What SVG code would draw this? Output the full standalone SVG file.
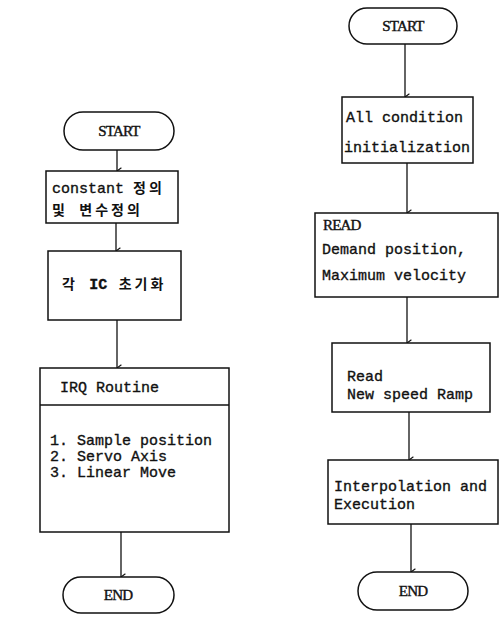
<svg xmlns="http://www.w3.org/2000/svg" width="500" height="620" viewBox="0 0 500 620">
  <style>
    .box { fill: #fff; stroke: #111; stroke-width: 1.5; }
    .term { fill: #fff; stroke: #111; stroke-width: 1.5; }
    .mono { font-family: "Liberation Mono", "Noto Sans CJK KR", monospace; font-size: 15px; fill: #111; stroke: #111; stroke-width: 0.35; }
    .kr { font-family: "Liberation Mono", "Noto Sans CJK KR", monospace; font-size: 14px; font-weight: bold; fill: #111; letter-spacing: 3px; }
    .serif { font-family: "Liberation Serif", serif; font-size: 15px; fill: #111; stroke: #111; stroke-width: 0.4; letter-spacing: -0.8px; }
    .edge { fill: none; stroke: #111; stroke-width: 1.3; marker-end: url(#arrow); }
  </style>
  <defs>
    <marker id="arrow" viewBox="0 0 10 10" refX="5" refY="9.5" markerWidth="8" markerHeight="8" markerUnits="userSpaceOnUse" orient="auto-start-reverse">
      <path d="M1,4 L5,9.5 L9,4" fill="none" stroke="#111" stroke-width="1.4"/>
    </marker>
  </defs>
  <rect width="500" height="620" fill="#fff"/>

  <!-- connectors -->
  <g id="connectors">
    <line class="edge" x1="117" y1="150" x2="117" y2="171"/>
    <line class="edge" x1="116" y1="223" x2="116" y2="251"/>
    <line class="edge" x1="117" y1="320" x2="117" y2="368"/>
    <line class="edge" x1="121" y1="532" x2="121" y2="577"/>
    <line class="edge" x1="405" y1="44" x2="405" y2="97"/>
    <line class="edge" x1="407" y1="163" x2="407" y2="213"/>
    <line class="edge" x1="407" y1="297" x2="407" y2="343"/>
    <line class="edge" x1="409" y1="412" x2="409" y2="460"/>
    <line class="edge" x1="411" y1="524" x2="411" y2="572"/>
  </g>

  <!-- left flow -->
  <g id="l-start">
    <rect class="term" x="64" y="112" width="110" height="38" rx="19"/>
    <text class="serif" x="119" y="136" text-anchor="middle">START</text>
  </g>
  <g id="l-const">
    <rect class="box" x="46" y="171" width="132" height="52"/>
    <text class="mono" x="52" y="193">constant <tspan class="kr" style="stroke:none">정의</tspan></text>
    <text class="kr" x="52" y="215">및 변수정의</text>
  </g>
  <g id="l-init">
    <rect class="box" x="48" y="251" width="133" height="69"/>
    <text class="kr" x="62" y="289">각 <tspan class="mono" style="letter-spacing:0">IC</tspan> 초기화</text>
  </g>
  <g id="l-irq">
    <rect class="box" x="40" y="368" width="189" height="164"/>
    <line x1="40" y1="405" x2="229" y2="405" stroke="#111" stroke-width="1.5"/>
    <text class="mono" x="60" y="392">IRQ Routine</text>
    <text class="mono" x="50" y="445">1. Sample position</text>
    <text class="mono" x="50" y="461">2. Servo Axis</text>
    <text class="mono" x="50" y="477">3. Linear Move</text>
  </g>
  <g id="l-end">
    <rect class="term" x="63" y="577" width="111" height="36" rx="18"/>
    <text class="serif" x="118" y="600" text-anchor="middle">END</text>
  </g>

  <!-- right flow -->
  <g id="r-start">
    <rect class="term" x="349" y="8" width="108" height="36" rx="18"/>
    <text class="serif" x="403" y="31" text-anchor="middle">START</text>
  </g>
  <g id="r-init">
    <rect class="box" x="342" y="97" width="131" height="66"/>
    <text class="mono" x="346" y="122">All condition</text>
    <text class="mono" x="344" y="152">initialization</text>
  </g>
  <g id="r-read">
    <rect class="box" x="315" y="213" width="183" height="84"/>
    <text class="serif" x="323" y="230">READ</text>
    <text class="mono" x="322" y="254">Demand position,</text>
    <text class="mono" x="322" y="280">Maximum velocity</text>
  </g>
  <g id="r-ramp">
    <rect class="box" x="332" y="343" width="158" height="69"/>
    <text class="mono" x="347" y="381">Read</text>
    <text class="mono" x="347" y="399">New speed Ramp</text>
  </g>
  <g id="r-interp">
    <rect class="box" x="328" y="460" width="170" height="64"/>
    <text class="mono" x="334" y="491">Interpolation and</text>
    <text class="mono" x="334" y="509">Execution</text>
  </g>
  <g id="r-end">
    <rect class="term" x="358" y="572" width="110" height="38" rx="19"/>
    <text class="serif" x="413" y="596" text-anchor="middle">END</text>
  </g>
</svg>
